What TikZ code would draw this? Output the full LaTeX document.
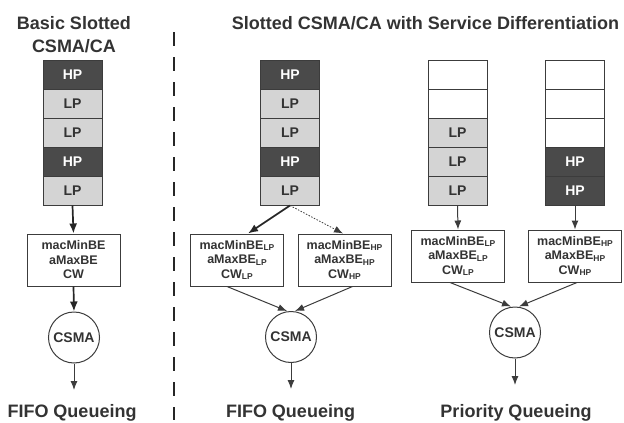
\documentclass[tikz,border=0pt]{standalone}
\usepackage{fontspec}
\setmainfont{Liberation Sans}
\usetikzlibrary{arrows.meta}
\definecolor{hpfill}{HTML}{4A4A4A}
\definecolor{lpfill}{HTML}{D4D4D4}
\definecolor{ink}{HTML}{333333}
\definecolor{edgec}{HTML}{3C3C3C}
\newcommand{\sbs}[1]{\raisebox{-1.3pt}{\fontsize{8.5}{9}\selectfont #1}}
\begin{document}
\begin{tikzpicture}[x=1pt,y=-1pt,
  cellbase/.style={rectangle, draw=edgec, line width=1pt, minimum width=59pt, minimum height=29pt, inner sep=0pt, font=\bfseries\fontsize{14}{16}\selectfont},
  hpcell/.style={cellbase, fill=hpfill, text=white},
  lpcell/.style={cellbase, fill=lpfill, text=ink},
  emptycell/.style={cellbase, fill=white},
  parbox/.style={rectangle, draw=edgec, line width=1pt, minimum width=93pt, minimum height=52pt, inner sep=0pt, align=center, text=ink, font=\bfseries\fontsize{12.5}{14.5}\selectfont},
  csma/.style={circle, draw=edgec, line width=1pt, minimum size=51pt, inner sep=0pt, text=ink, font=\bfseries\fontsize{14}{16}\selectfont},
  title/.style={text=ink, font=\bfseries\fontsize{18}{22}\selectfont, inner sep=0pt, anchor=base},
  flow/.style={draw=edgec, line width=1pt, -{Latex[length=9pt,width=7pt]}},
  boldflow/.style={draw=black!85, line width=1.7pt, -{Latex[length=10pt,width=8pt]}},
  dotflow/.style={draw=edgec, line width=0.8pt, dash pattern=on 1.5pt off 1.5pt, -{Latex[length=9pt,width=7pt]}},
  divider/.style={draw=black!85, line width=1.8pt, dash pattern=on 14pt off 11pt}
]
\useasboundingbox (0,0) rectangle (624,423);

% titles
\node[title] (t1a) at (74,29.5) {Basic Slotted};
\node[title] (t1b) at (74,52.5) {CSMA/CA};
\node[title] (t2) at (425.5,29.5) {Slotted CSMA/CA with Service Differentiation};

% divider
\coordinate (dtop) at (174,32);
\coordinate (dbot) at (174,420);
\draw[divider] (dtop) -- (dbot);

% stack 1
\node[hpcell] (s1a) at (72.5,74.5) {HP};
\node[lpcell] (s1b) at (72.5,103.5) {LP};
\node[lpcell] (s1c) at (72.5,132.5) {LP};
\node[hpcell] (s1d) at (72.5,161.5) {HP};
\node[lpcell] (s1e) at (72.5,190.5) {LP};

% stack 2
\node[hpcell] (s2a) at (290,74.5) {HP};
\node[lpcell] (s2b) at (290,103.5) {LP};
\node[lpcell] (s2c) at (290,132.5) {LP};
\node[hpcell] (s2d) at (290,161.5) {HP};
\node[lpcell] (s2e) at (290,190.5) {LP};

% stack 3
\node[emptycell] (s3a) at (457.5,74.5) {};
\node[emptycell] (s3b) at (457.5,103.5) {};
\node[lpcell] (s3c) at (457.5,132.5) {LP};
\node[lpcell] (s3d) at (457.5,161.5) {LP};
\node[lpcell] (s3e) at (457.5,190.5) {LP};

% stack 4
\node[emptycell] (s4a) at (575,74.5) {};
\node[emptycell] (s4b) at (575,103.5) {};
\node[emptycell] (s4c) at (575,132.5) {};
\node[hpcell] (s4d) at (575,161.5) {HP};
\node[hpcell] (s4e) at (575,190.5) {HP};

% parameter boxes
\node[parbox] (b1) at (73.5,260) {macMinBE\\aMaxBE\\CW};
\node[parbox] (b2l) at (237,260) {macMinBE\sbs{LP}\\aMaxBE\sbs{LP}\\CW\sbs{LP}};
\node[parbox] (b2h) at (344.5,260) {macMinBE\sbs{HP}\\aMaxBE\sbs{HP}\\CW\sbs{HP}};
\node[parbox] (b3) at (458,256) {macMinBE\sbs{LP}\\aMaxBE\sbs{LP}\\CW\sbs{LP}};
\node[parbox] (b4) at (575,256) {macMinBE\sbs{HP}\\aMaxBE\sbs{HP}\\CW\sbs{HP}};

% CSMA circles
\node[csma] (c1) at (74,337.5) {CSMA};
\node[csma] (c2) at (291,337) {CSMA};
\node[csma] (c3) at (515,332.5) {CSMA};

% outputs
\coordinate (o1) at (74,390);
\coordinate (o2) at (291,389);
\coordinate (o3) at (515,385);

\node[title] (q1) at (72,417) {FIFO Queueing};
\node[title] (q2) at (290.5,417) {FIFO Queueing};
\node[title] (q3) at (516,417) {Priority Queueing};

% connectors column 1
\draw[boldflow] (s1e.south) -- (b1.north);
\draw[boldflow] (b1.south) -- (c1.north);
\draw[flow] (c1.south) -- (o1);

% column 2
\draw[boldflow] (s2e.south) -- ([xshift=11pt]b2l.north);
\draw[dotflow] (s2e.south) -- ([xshift=-1.5pt]b2h.north);
\draw[flow] ([xshift=-10pt]b2l.south) -- ([xshift=-4pt]c2.north);
\draw[flow] ([xshift=8pt]b2h.south) -- ([xshift=4pt]c2.north);
\draw[flow] (c2.south) -- (o2);

% column 3/4
\draw[flow] (s3e.south) -- (b3.north);
\draw[flow] (s4e.south) -- (b4.north);
\draw[flow] ([xshift=-8pt]b3.south) -- ([xshift=-4pt]c3.north);
\draw[flow] ([xshift=2pt]b4.south) -- ([xshift=4pt]c3.north);
\draw[flow] (c3.south) -- (o3);
\end{tikzpicture}
\end{document}
